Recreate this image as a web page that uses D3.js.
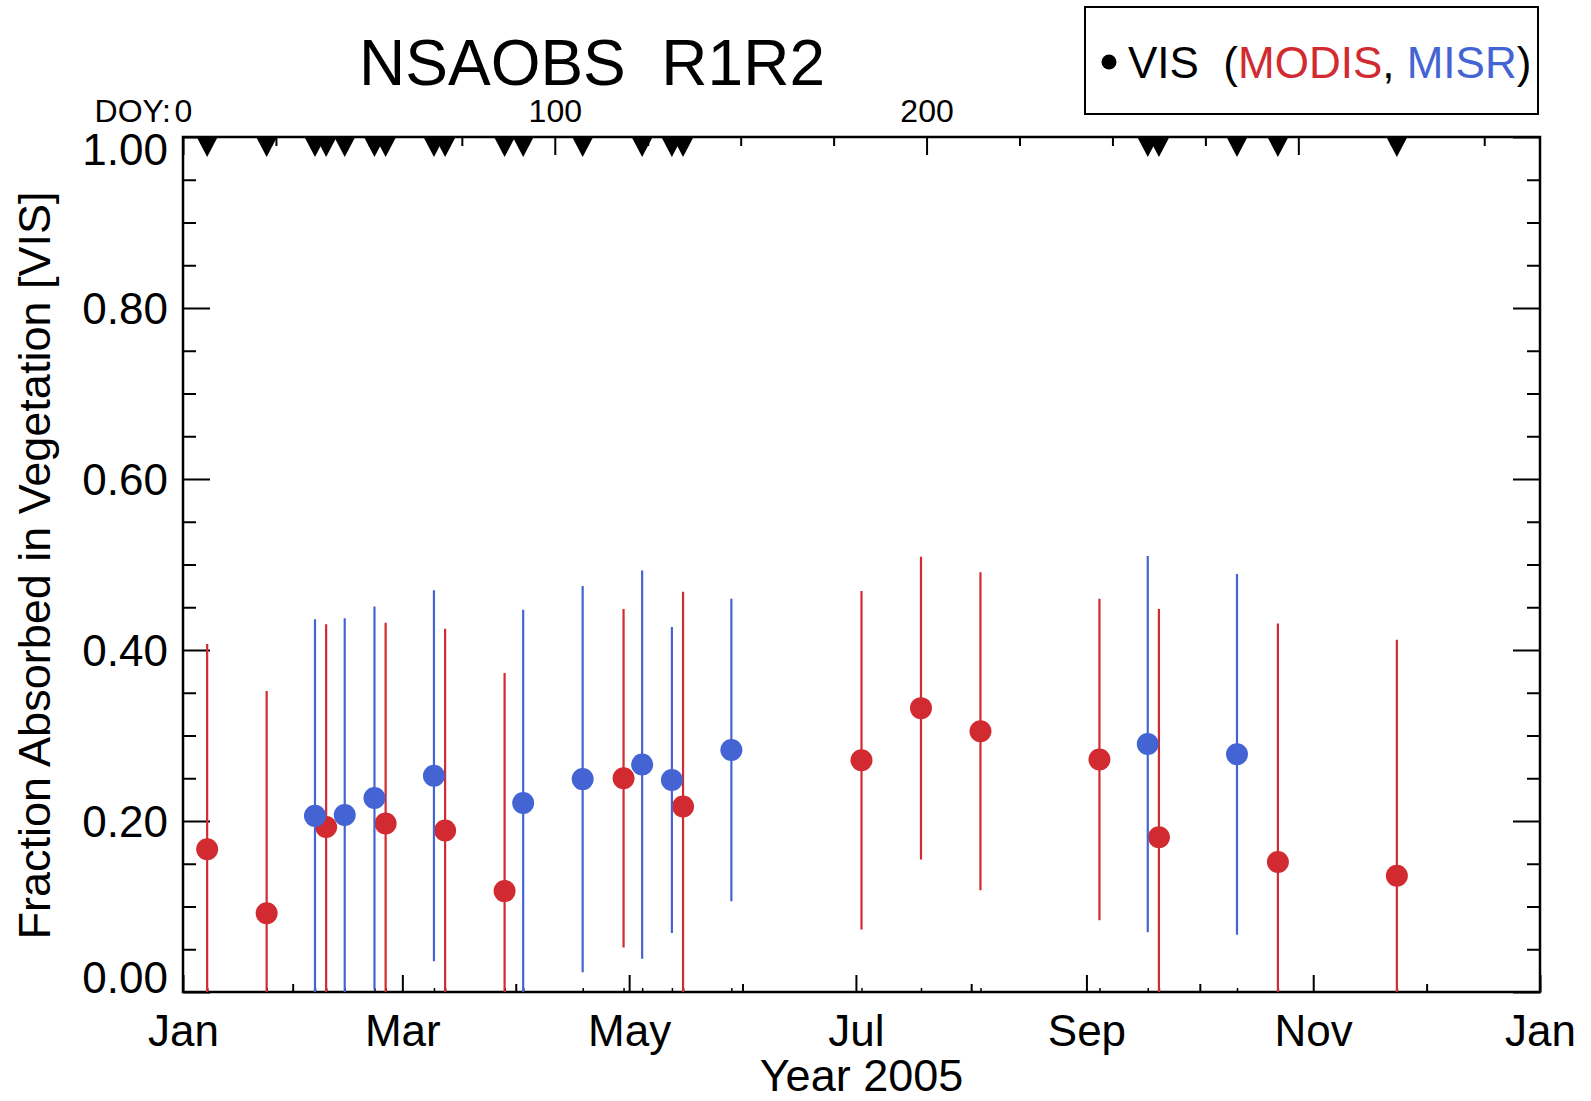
<!DOCTYPE html>
<html>
<head>
<meta charset="utf-8">
<script src="https://cdn.jsdelivr.net/npm/d3@7"></script>
<style>
  html, body { margin: 0; padding: 0; background: #fff; }
  svg { display: block; font-family: "Liberation Sans", Arial, Helvetica, sans-serif; }
  text { white-space: pre; }
</style>
</head>
<body>
<svg id="chart" width="1591" height="1101"></svg>
<script>
// MODIS VIS absorbed fraction: composite day of year, value, 1-sigma
const modisDoy   = [6.5, 22.5, 38.5, 54.5, 70.5, 86.5, 118.5, 134.5, 182.5, 198.5, 214.5, 246.5, 262.5, 294.5, 326.5];
const modisValue = [0.167, 0.092, 0.193, 0.197, 0.189, 0.118, 0.250, 0.217, 0.271, 0.332, 0.305, 0.272, 0.181, 0.152, 0.136];
const modisSigma = [0.240, 0.260, 0.237, 0.235, 0.236, 0.255, 0.198, 0.251, 0.198, 0.177, 0.186, 0.188, 0.267, 0.279, 0.276];

// MISR VIS absorbed fraction
const misrDoy   = [35.5, 43.5, 51.5, 67.5, 91.5, 107.5, 123.5, 131.5, 147.5, 259.5, 283.5];
const misrValue = [0.206, 0.207, 0.227, 0.253, 0.221, 0.249, 0.266, 0.248, 0.283, 0.290, 0.278];
const misrSigma = [0.230, 0.230, 0.224, 0.217, 0.226, 0.226, 0.227, 0.179, 0.177, 0.220, 0.211];

// dates flagged along the top edge
const flaggedDoy = [6.5, 22.5, 35.5, 38.5, 43.5, 51.5, 54.5, 67.5, 70.5, 86.5, 91.5, 107.5,
                    123.5, 131.5, 134.5, 259.5, 262.5, 283.5, 294.5, 326.5];

// axis ticks
const monthTickDoy    = [0, 59, 120, 181, 243, 304, 365];
const monthTickLabels = ["Jan", "Mar", "May", "Jul", "Sep", "Nov", "Jan"];
const doyMajorTicks   = [0, 100, 200, 300];
const doyLabelTicks   = [0, 100, 200];
const yMajorTicks     = [0, 0.2, 0.4, 0.6, 0.8, 1.0];

const titleText  = "NSAOBS  R1R2";
const xTitleText = "Year 2005";
const yTitleText = "Fraction Absorbed in Vegetation [VIS]";

const RED  = "#d12a30";
const BLUE = "#4464d4";

const svg = d3.select("#chart");
const L = 183, R = 1540, T = 137, B = 992;

const x = d3.scaleLinear().domain([0, 365]).range([L, R]);
const y = d3.scaleLinear().domain([0, 1]).range([B, T]);

const tickStyle = g => {
  g.select(".domain").remove();
  g.attr("font-family", null).attr("font-size", null);
  g.selectAll(".tick line").attr("stroke", "#000").attr("stroke-width", 2);
};

// ---- bottom axis: month ticks ----
svg.append("g").attr("transform", `translate(0,${B})`)
  .call(d3.axisBottom(x).tickValues(monthTickDoy).tickSize(-17).tickPadding(23)
          .tickFormat((d, i) => monthTickLabels[i]))
  .call(tickStyle)
  .call(g => g.selectAll("text").attr("font-size", 44).attr("fill", "#000"));

const monthMinor = d3.pairs(monthTickDoy).map(([a, b]) => (a + b) / 2);
svg.append("g").attr("transform", `translate(0,${B})`)
  .call(d3.axisBottom(x).tickValues(monthMinor).tickSize(-8).tickFormat(""))
  .call(tickStyle);

// small marks at every observation date
svg.append("g").attr("transform", `translate(0,${B})`)
  .call(d3.axisBottom(x).tickValues(modisDoy.concat(misrDoy)).tickSize(-4).tickFormat(""))
  .call(tickStyle)
  .call(g => g.selectAll(".tick line").attr("stroke-width", 1.5));

// ---- top axis: day of year ----
svg.append("g").attr("transform", `translate(0,${T})`)
  .call(d3.axisTop(x).tickValues(doyMajorTicks).tickSize(-18).tickPadding(15)
          .tickFormat(d => doyLabelTicks.includes(d) ? String(d) : ""))
  .call(tickStyle)
  .call(g => g.selectAll("text").attr("font-size", 32).attr("fill", "#000"));

const doyMinor = d3.range(25, 365, 25).filter(d => d % 100 !== 0);
svg.append("g").attr("transform", `translate(0,${T})`)
  .call(d3.axisTop(x).tickValues(doyMinor).tickSize(-9).tickFormat(""))
  .call(tickStyle);

svg.append("text")
  .attr("x", x(0) - 12).attr("y", T - 15)
  .attr("text-anchor", "end").attr("font-size", 32)
  .text("DOY:");

// ---- left / right axes ----
const yMinor = d3.range(0.05, 1, 0.05).filter(v => Math.abs(v * 5 - Math.round(v * 5)) > 1e-6);

svg.append("g").attr("transform", `translate(${L},0)`)
  .call(d3.axisLeft(y).tickValues(yMajorTicks).tickSize(-27).tickPadding(15)
          .tickFormat(d3.format(".2f")))
  .call(tickStyle)
  .call(g => g.selectAll("text").attr("font-size", 44).attr("fill", "#000")
              .attr("dy", d => d === 0 ? "0em" : d === 1 ? "0.62em" : "0.36em"));

svg.append("g").attr("transform", `translate(${L},0)`)
  .call(d3.axisLeft(y).tickValues(yMinor).tickSize(-13).tickFormat(""))
  .call(tickStyle);

svg.append("g").attr("transform", `translate(${R},0)`)
  .call(d3.axisRight(y).tickValues(yMajorTicks).tickSize(-27).tickFormat(""))
  .call(tickStyle);

svg.append("g").attr("transform", `translate(${R},0)`)
  .call(d3.axisRight(y).tickValues(yMinor).tickSize(-13).tickFormat(""))
  .call(tickStyle);

// ---- plot frame ----
svg.append("rect")
  .attr("x", L).attr("y", T).attr("width", R - L).attr("height", B - T)
  .attr("fill", "none").attr("stroke", "#000").attr("stroke-width", 2.5);

// ---- data ----
svg.append("clipPath").attr("id", "plot-clip")
  .append("rect").attr("x", L).attr("y", T).attr("width", R - L).attr("height", B - T);

const plot = svg.append("g").attr("clip-path", "url(#plot-clip)");

function drawSeries(doy, value, sigma, color) {
  const rows = doy.map((d, i) => ({ d, v: value[i], s: sigma[i] }));
  const g = plot.append("g");
  g.selectAll("line").data(rows).join("line")
    .attr("x1", r => x(r.d)).attr("x2", r => x(r.d))
    .attr("y1", r => y(r.v - r.s)).attr("y2", r => y(r.v + r.s))
    .attr("stroke", color).attr("stroke-width", 2.2);
  g.selectAll("circle").data(rows).join("circle")
    .attr("cx", r => x(r.d)).attr("cy", r => y(r.v)).attr("r", 11)
    .attr("fill", color);
}
drawSeries(modisDoy, modisValue, modisSigma, RED);
drawSeries(misrDoy, misrValue, misrSigma, BLUE);

// flag markers hanging from the top edge
const tri = d3.line();
svg.append("g").selectAll("path").data(flaggedDoy).join("path")
  .attr("d", d => tri([[x(d) - 10.5, T], [x(d) + 10.5, T], [x(d), T + 20]]) + "Z")
  .attr("fill", "#000");

// ---- titles ----
svg.append("text")
  .attr("x", 592).attr("y", 85).attr("text-anchor", "middle")
  .attr("font-size", 64).text(titleText);

svg.append("text")
  .attr("x", (L + R) / 2).attr("y", 1091).attr("text-anchor", "middle")
  .attr("font-size", 45).text(xTitleText);

svg.append("text")
  .attr("transform", `translate(50,${(T + B) / 2 + 1}) rotate(-90)`)
  .attr("text-anchor", "middle").attr("font-size", 45).text(yTitleText);

// ---- legend ----
const legend = svg.append("g");
legend.append("rect")
  .attr("x", 1085).attr("y", 7).attr("width", 453).attr("height", 107)
  .attr("fill", "#fff").attr("stroke", "#000").attr("stroke-width", 2);
legend.append("circle").attr("cx", 1109).attr("cy", 62).attr("r", 7.5).attr("fill", "#000");
const lt = legend.append("text").attr("x", 1128).attr("y", 78).attr("font-size", 44);
lt.append("tspan").text("VIS  (");
lt.append("tspan").attr("fill", RED).text("MODIS");
lt.append("tspan").text(", ");
lt.append("tspan").attr("fill", BLUE).text("MISR");
lt.append("tspan").text(")");
</script>
</body>
</html>
